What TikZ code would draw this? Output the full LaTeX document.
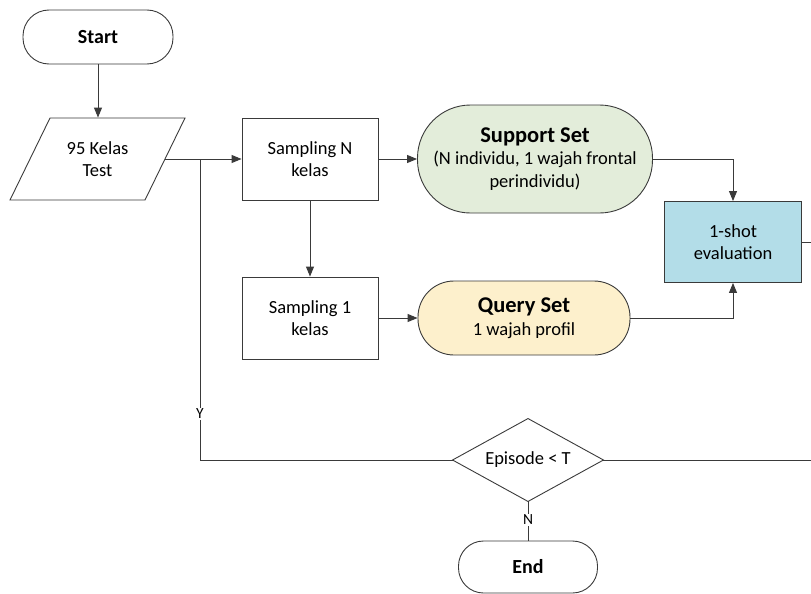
\documentclass[tikz,border=0pt]{standalone}
\usepackage{fontspec}
\setmainfont{Carlito}
\usetikzlibrary{arrows.meta}
\definecolor{linec}{HTML}{3A3A3A}
\definecolor{supportfill}{HTML}{E3EDDA}
\definecolor{queryfill}{HTML}{FDF0CC}
\definecolor{evalfill}{HTML}{B3DDE8}

\begin{document}
\begin{tikzpicture}[x=1pt,y=-1pt,
  box/.style={draw=linec, line width=0.9pt, align=center, inner sep=0pt,
              font=\fontsize{18.5}{22.5}\selectfont},
  proc/.style={box, rectangle, minimum width=136pt, minimum height=82pt},
  term/.style={box, rectangle, rounded corners=26pt, minimum width=150pt, minimum height=54pt,
               font=\fontsize{20}{24}\selectfont\bfseries},
  arr/.style={draw=linec, line width=0.9pt, -{Triangle[length=10pt,width=8pt]}},
  conn/.style={draw=linec, line width=0.9pt},
  lab/.style={fill=white, inner sep=1pt, font=\fontsize{15.5}{17}\selectfont}
]
\useasboundingbox (0,0) rectangle (811,594);

% terminals
\node[term] (start) at (98,37) {Start};
\node[term, minimum width=139pt, minimum height=52pt, rounded corners=25pt] (end) at (528,567) {End};

% input (parallelogram outline drawn around an invisible anchor box)
\node[box, draw=none, minimum width=135pt, minimum height=82pt] (in) at (97.5,159) {95 Kelas\\Test};
\draw[conn] (10,200) -- (50,118) -- (185,118) -- (145,200) -- cycle;

% processes
\node[proc] (sampN) at (310,159) {Sampling N\\kelas};
\node[proc] (samp1) at (310,318) {Sampling 1\\kelas};
\node[box, fill=evalfill, minimum width=137pt, minimum height=81pt] (eval) at (733,242) {1-shot\\evaluation};

% data sets
\node[box, fill=supportfill, rounded corners=53pt, minimum width=235pt, minimum height=108pt] (support) at (535,159)
  {{\fontsize{22.5}{24}\selectfont\bfseries Support Set}\\(N individu, 1 wajah frontal\\perindividu)};
\node[box, fill=queryfill, rounded corners=36pt, minimum width=212pt, minimum height=74pt] (query) at (524,318)
  {{\fontsize{22.5}{24}\selectfont\bfseries Query Set}\\1 wajah profil};

% decision (diamond drawn through the anchors of its text box)
\node[box, draw=none, minimum width=150pt, minimum height=82pt] (dec) at (528,460) {Episode < T};
\draw[conn] (dec.west) -- (dec.north) -- (dec.east) -- (dec.south) -- cycle;

% connectors
\draw[arr] (start.south) -- (start.south |- in.north);
\draw[arr] (in.east) -- (sampN.west);
\draw[arr] (sampN.east) -- (support.west);
\draw[arr] (support.east) -| (eval.north);
\draw[arr] (sampN.south) -- (samp1.north);
\draw[arr] (samp1.east) -- (query.west);
\draw[arr] (query.east) -| (eval.south);

% loop back to the sampling step
\coordinate (br) at (200,159);
\draw[conn] (br) -- (br |- dec.west) -- (dec.west);
\node[lab] (ylab) at (200,414) {Y};

% exit
\draw[conn] (dec.south) -- (end.north);
\node[lab] (nlab) at (528,520) {N};

% return path continues past the right edge
\coordinate (eR) at (811,242);
\coordinate (dR) at (811,460);
\draw[conn] (eval.east) -- (eR);
\draw[conn] (dec.east) -- (dR);
\end{tikzpicture}
\end{document}
